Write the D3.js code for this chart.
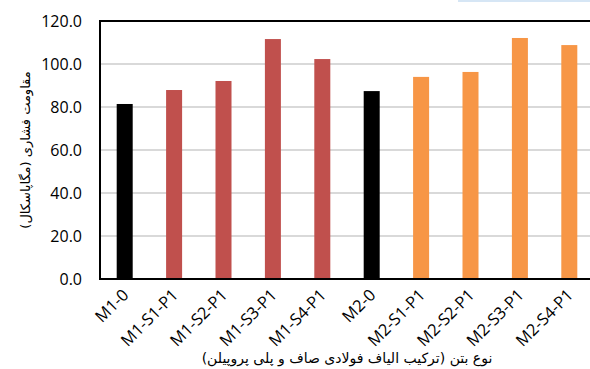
<!DOCTYPE html>
<html>
<head>
<meta charset="utf-8">
<script src="https://cdn.jsdelivr.net/npm/d3@7"></script>
<style>
  html, body { margin: 0; padding: 0; background: #fff; overflow: hidden; }
  svg { display: block; }
</style>
</head>
<body>
<svg id="chart" width="590" height="369"></svg>
<script>
// Concrete mixes and their compressive strength (MPa)
const categories = ["M1-0", "M1-S1-P1", "M1-S2-P1", "M1-S3-P1", "M1-S4-P1",
                    "M2-0", "M2-S1-P1", "M2-S2-P1", "M2-S3-P1", "M2-S4-P1"];
const strengths = [81.4, 87.9, 92.1, 111.6, 102.3, 87.4, 94.0, 96.3, 112.1, 108.8];
const groups = ["plain", "m1", "m1", "m1", "m1", "plain", "m2", "m2", "m2", "m2"];
const yTicks = [0, 20, 40, 60, 80, 100, 120];
const xTitle = "نوع بتن (ترکیب الیاف فولادی صاف و پلی پروپیلن)";
const yTitle = "مقاومت فشاری (مگاپاسکال)";

const colors = { plain: "#000000", m1: "#C0504D", m2: "#F79646" };

const svg = d3.select("#chart");
const margin = { left: 100, top: 21, right: -4, bottom: 90 };
const W = 590, H = 369;
const plotRight = W - margin.right;
const plotBottom = H - margin.bottom;

const x = d3.scaleBand()
  .domain(categories)
  .range([margin.left, plotRight])
  .paddingInner(0.676)
  .paddingOuter(0.338);

const y = d3.scaleLinear()
  .domain([0, 120])
  .range([plotBottom, margin.top]);

// small accent strip along the top edge
svg.append("rect")
  .attr("x", 458).attr("y", 0)
  .attr("width", W - 458).attr("height", 2)
  .attr("fill", "#d6e6f5");

// horizontal gridlines
svg.append("g")
  .selectAll("line")
  .data(yTicks.filter(d => d > 0 && d < 120))
  .join("line")
  .attr("x1", margin.left).attr("x2", plotRight)
  .attr("y1", d => y(d)).attr("y2", d => y(d))
  .attr("stroke", "#d9d9d9")
  .attr("stroke-width", 2);

// bars
svg.append("g")
  .selectAll("rect")
  .data(categories)
  .join("rect")
  .attr("x", d => x(d))
  .attr("width", x.bandwidth())
  .attr("y", (d, i) => y(strengths[i]))
  .attr("height", (d, i) => y(0) - y(strengths[i]))
  .attr("fill", (d, i) => colors[groups[i]]);

// frame: left, top and bottom edges
svg.append("line")
  .attr("x1", margin.left).attr("x2", margin.left)
  .attr("y1", margin.top).attr("y2", plotBottom)
  .attr("stroke", "#000").attr("stroke-width", 2);
svg.append("line")
  .attr("x1", margin.left - 1).attr("x2", plotRight)
  .attr("y1", margin.top).attr("y2", margin.top)
  .attr("stroke", "#000").attr("stroke-width", 2);

// y axis labels
const yAxis = d3.axisLeft(y)
  .tickValues(yTicks)
  .tickFormat(d3.format(".1f"))
  .tickSize(0)
  .tickPadding(18);
const gy = svg.append("g")
  .attr("transform", `translate(${margin.left},0)`)
  .call(yAxis);
gy.select(".domain").remove();
gy.selectAll("text")
  .attr("font-family", "'Open Sans', sans-serif")
  .attr("font-size", 16)
  .attr("fill", "#000");

// x axis
const xAxis = d3.axisBottom(x).tickSize(0).tickPadding(0);
const gx = svg.append("g")
  .attr("transform", `translate(0,${plotBottom})`)
  .call(xAxis);
gx.select(".domain")
  .attr("stroke", "#000").attr("stroke-width", 2)
  .attr("d", `M${margin.left - 1},0H${plotRight}`);
gx.selectAll("text")
  .attr("font-family", "'Open Sans', sans-serif")
  .attr("font-size", 16.5)
  .attr("fill", "#000")
  .attr("text-anchor", "end")
  .attr("dy", null)
  .attr("transform", "translate(5,17) rotate(-45)");

// axis titles
svg.append("text")
  .attr("x", (margin.left + plotRight) / 2)
  .attr("y", 363)
  .attr("text-anchor", "middle")
  .attr("font-family", "'DejaVu Sans', sans-serif")
  .attr("font-size", 14)
  .attr("direction", "rtl")
  .text(xTitle);

svg.append("text")
  .attr("transform", `translate(30,${(margin.top + plotBottom) / 2}) rotate(-90)`)
  .attr("text-anchor", "middle")
  .attr("font-family", "'DejaVu Sans', sans-serif")
  .attr("font-size", 13)
  .attr("direction", "rtl")
  .text(yTitle);
</script>
</body>
</html>
